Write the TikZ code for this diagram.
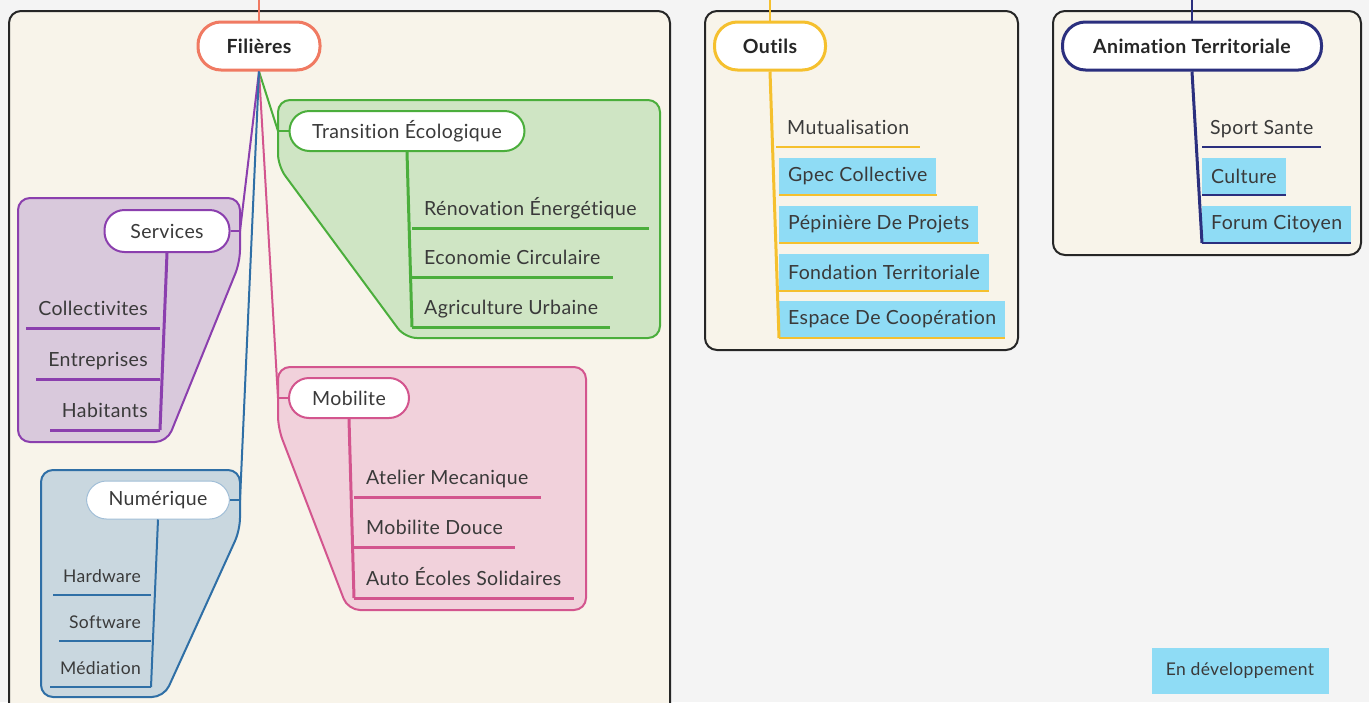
\documentclass[tikz,border=0pt]{standalone}
\usepackage{fontspec}
\setmainfont{Lato}[RawFeature={-liga,-dlig}, LetterSpace=2]
\usetikzlibrary{positioning}
\definecolor{pagebg}{HTML}{F4F4F4}
\definecolor{boxbg}{HTML}{F8F4EA}
\definecolor{txtgray}{HTML}{3A3A3A}
\definecolor{filcol}{HTML}{F07A62}
\definecolor{outcol}{HTML}{F5C02E}
\definecolor{anicol}{HTML}{2B2F7E}
\definecolor{grncol}{HTML}{4BAE3C}
\definecolor{grnbg}{HTML}{CFE5C4}
\definecolor{purcol}{HTML}{8B3FAE}
\definecolor{purbg}{HTML}{D9C9DC}
\definecolor{blucol}{HTML}{2F6FA6}
\definecolor{blubg}{HTML}{C9D7DF}
\definecolor{pnkcol}{HTML}{D3558E}
\definecolor{pnkbg}{HTML}{F1D1DB}
\definecolor{devblue}{HTML}{8FDCF5}

\begin{document}
\begin{tikzpicture}[x=1pt,y=-1pt,
  every node/.style={font=\fontsize{19.5}{22}\selectfont, text=txtgray},
  mainbox/.style={draw=black!85, line width=2pt, fill=boxbg, rounded corners=12pt},
  group/.style={line width=2pt, rounded corners=12pt},
  topic/.style={draw, line width=3pt, fill=white, rounded corners=23pt, minimum height=48pt,
    font=\bfseries\fontsize{19.5}{22}\selectfont, text=black!85},
  branch/.style={draw, line width=2pt, fill=white, rounded corners=20pt, minimum height=40pt},
  leaf/.style={anchor=south west, inner xsep=12pt, inner ysep=8pt, text depth=4pt},
  leafr/.style={anchor=south east, inner xsep=12pt, inner ysep=8pt, text depth=4pt},
  small/.style={font=\fontsize{17.5}{20}\selectfont, inner xsep=10pt},
  devleaf/.style={anchor=south west, fill=devblue, minimum height=37pt, inner xsep=9pt},
  link/.style={line width=2pt},
  stem/.style={line width=3pt},
  uline/.style={line width=3pt}]

\fill[pagebg] (0,0) rectangle (1369,702);
\useasboundingbox (0,0) rectangle (1369,702);

\draw[mainbox] (9,11) rectangle (670,720);
\draw[mainbox] (705,11) rectangle (1018,350);
\draw[mainbox] (1053,11) rectangle (1361,255);

\draw[group, draw=grncol, fill=grnbg] (278,100) -- (660,100) -- (660,338) -- (405,338) -- (278,166) -- cycle;
\draw[group, draw=pnkcol, fill=pnkbg] (278,367) -- (586,367) -- (586,610) -- (348,610) -- (278,428) -- cycle;
\draw[group, draw=purcol, fill=purbg] (18,198) -- (240,198) -- (240,262) -- (167,442) -- (18,442) -- cycle;
\draw[group, draw=blucol, fill=blubg] (41,470) -- (240,470) -- (240,530) -- (164,697) -- (41,697) -- cycle;

\coordinate (filtop) at (259,0);
\coordinate (outtop) at (770,0);
\coordinate (anitop) at (1192,0);
\coordinate (traj) at (278,131);
\coordinate (mobj) at (278,398);
\coordinate (svcj) at (240,231);
\coordinate (numj) at (240,500);

\node[topic, draw=filcol, minimum width=122pt] (fil) at (259,46) {Filières};
\node[topic, draw=outcol, minimum width=111pt] (out) at (770,46) {Outils};
\node[topic, draw=anicol, minimum width=259pt] (ani) at (1192,46) {Animation Territoriale};

\draw[link, filcol] (filtop) -- (fil);
\draw[link, outcol] (outtop) -- (out);
\draw[link, anicol] (anitop) -- (ani);

\draw[link, grncol] (fil.south) -- (traj);
\draw[link, pnkcol] (fil.south) -- (mobj);
\draw[link, purcol] (fil.south) -- (svcj);
\draw[link, blucol] (fil.south) -- (numj);

\node[branch, draw=grncol, minimum width=235pt] (tra) at (407,131) {Transition Écologique};
\node[branch, draw=pnkcol, minimum width=120pt] (mob) at (349,398) {Mobilite};
\node[branch, draw=purcol, minimum width=125pt, minimum height=42pt] (svc) at (167,231) {Services};
\node[branch, draw=blucol!45, line width=1pt, minimum width=143pt, minimum height=38pt] (num) at (158,500) {Numérique};

\draw[link, grncol] (traj) -- (tra);
\draw[link, pnkcol] (mobj) -- (mob);
\draw[link, purcol] (svcj) -- (svc);
\draw[link, blucol] (numj) -- (num);

% transition
\node[leaf] (ren) at (412,228) {Rénovation Énergétique};
\node[leaf] (eco) at (412,277) {Economie Circulaire};
\node[leaf] (agr) at (412,327) {Agriculture Urbaine};
\draw[stem, grncol] (tra.south) -- (agr.south west);
\foreach \n in {ren,eco,agr}
  \draw[uline, grncol] (\n.south west) -- (\n.south east);

% mobilite
\node[leaf] (ate) at (354,497) {Atelier Mecanique};
\node[leaf] (dou) at (354,547) {Mobilite Douce};
\node[leaf] (aut) at (354,598) {Auto Écoles Solidaires};
\draw[stem, pnkcol] (mob.south) -- (aut.south west);
\foreach \n in {ate,dou,aut}
  \draw[uline, pnkcol] (\n.south west) -- (\n.south east);

% services
\node[leafr] (col) at (160,328) {Collectivites};
\node[leafr] (ent) at (160,379) {Entreprises};
\node[leafr] (hab) at (160,430) {Habitants};
\draw[stem, purcol] (svc.south) -- (hab.south east);
\foreach \n in {col,ent,hab}
  \draw[uline, purcol] (\n.south east) -- (\n.south west);

% numerique
\node[leafr, small] (har) at (151,595) {Hardware};
\node[leafr, small] (sof) at (151,641) {Software};
\node[leafr, small] (med) at (151,687) {Médiation};
\draw[stem, blucol, line width=2pt] (num.south) -- (med.south east);
\foreach \n in {har,sof,med}
  \draw[uline, blucol, line width=2.5pt] (\n.south east) -- (\n.south west);

% outils
\node[leaf, inner xsep=11pt] (mut) at (776,147) {Mutualisation};
\node[devleaf] (gpe) at (779,195) {Gpec Collective};
\node[devleaf] (pep) at (779,243) {Pépinière De Projets};
\node[devleaf] (fon) at (779,291) {Fondation Territoriale};
\node[devleaf] (esp) at (779,338) {Espace De Coopération};
\draw[stem, outcol] (out.south) -- (esp.south west);
\foreach \n in {mut,gpe,pep,fon,esp}
  \draw[uline, outcol, line width=2.5pt] (\n.south west) -- (\n.south east);

% animation
\node[leaf, inner xsep=8pt] (spo) at (1202,147) {Sport Sante};
\node[devleaf] (cul) at (1202,195) {Culture};
\node[devleaf] (for) at (1202,243) {Forum Citoyen};
\draw[stem, anicol] (ani.south) -- (for.south west);
\foreach \n in {spo,cul,for}
  \draw[uline, anicol, line width=2.5pt] (\n.south west) -- (\n.south east);

\node[fill=devblue, minimum width=177pt, minimum height=46pt, font=\fontsize{17.5}{20}\selectfont] (dev) at (1240,671) {En développement};
\end{tikzpicture}
\end{document}
